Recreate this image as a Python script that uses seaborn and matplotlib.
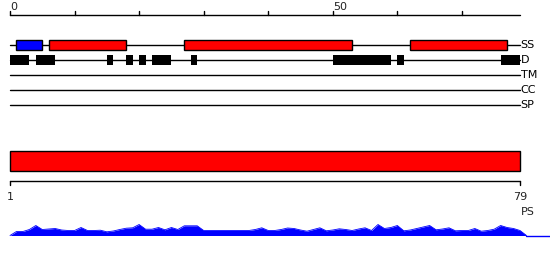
import matplotlib
matplotlib.use("Agg")
import matplotlib.pyplot as plt
import seaborn as sns
import numpy as np

sns.set_style("white")
plt.rcParams['font.family'] = ['DejaVu Sans']

# ---- data ----
seq_len = 79
top_ticks = [0, 10, 20, 30, 40, 50, 60, 70]
top_tick_labels = {0: "0", 50: "50"}
track_names = ["SS", "D", "TM", "CC", "SP"]

ss_helix_start = [1]          # blue
ss_helix_end = [5]
ss_strand_start = [6, 27, 62]  # red
ss_strand_end = [18, 53, 77]

dis_start = [0, 4, 15, 18, 20, 22, 28, 50, 60, 76]
dis_end = [3, 7, 16, 19, 21, 25, 29, 59, 61, 79]

ps_start = [1]
ps_end = [79]
ps_ticks = [1, 79]

profile_pos = list(range(0, 81))
profile_val = [0, 4, 4, 6, 10, 6, 6.5, 7, 5.5, 5, 5, 8, 5, 5, 5.3, 3.7, 4.5, 6, 7.3, 7.7,
               11, 6.3, 6.3, 8, 5.7, 8, 6, 9.7, 9.7, 9.7, 5, 5, 5, 5, 5, 5, 5, 5, 6, 7.7,
               5, 5, 6, 7.5, 7, 5.5, 4.3, 6, 7.7, 4.7, 5.5, 6.7, 6, 5, 6.5, 7.7, 5, 11, 7, 8,
               10, 4.7, 5.5, 7, 8.5, 10, 5.7, 6.5, 7.7, 4.7, 5, 5, 7, 4.3, 5, 6.3, 10, 8, 7, 5, 0]

# ---- layout ----
W, H = 550, 260
fig = plt.figure(figsize=(W / 100, H / 100), dpi=100)

s = 510 / seq_len
ax = fig.add_axes([0, 0, 1, 1])
ax.set_xlim(-10 / s, (W - 10) / s)
ax.set_ylim(H, 0)
ax.axis('off')

# top ruler
ax.plot([0, seq_len], [14.5, 14.5], color='black', lw=1)
for t in top_ticks:
    ax.plot([t, t], [10.5, 14.5], color='black', lw=1)
    if t in top_tick_labels:
        ax.text(t, 10, top_tick_labels[t], ha='left', va='baseline', fontsize=8, color='#222')

# track lines and labels
track_y = [45, 60, 75, 90, 105]
for name, y in zip(track_names, track_y):
    ax.plot([0, seq_len], [y, y], color='black', lw=1, zorder=1)
    ax.text(seq_len + 0.1, y, name, ha='left', va='center', fontsize=8, color='black')

ax.barh(45, np.array(ss_helix_end) - np.array(ss_helix_start), left=ss_helix_start,
        height=10, color='#0000ff', edgecolor='black', lw=1, zorder=3)
ax.barh(45, np.array(ss_strand_end) - np.array(ss_strand_start), left=ss_strand_start,
        height=10, color='#ff0000', edgecolor='black', lw=1, zorder=3)
ax.barh(60, np.array(dis_end) - np.array(dis_start), left=dis_start,
        height=10, color='black', edgecolor='black', lw=0, zorder=3)

# bottom PS section (scale 1..79)
s2 = 510 / (ps_ticks[-1] - ps_ticks[0])
ax2 = fig.add_axes([0, 0, 1, 1])
ax2.set_xlim(1 - 10 / s2, 1 + (W - 10) / s2)
ax2.set_ylim(H, 0)
ax2.axis('off')
ax2.patch.set_alpha(0)
ax2.barh(160.5, np.array(ps_end) - np.array(ps_start), left=ps_start, height=20,
         color='#ff0000', edgecolor='black', lw=1)
ax2.plot([ps_ticks[0], ps_ticks[-1]], [180.5, 180.5], color='black', lw=1)
for t in ps_ticks:
    ax2.plot([t, t], [180.5, 184.5], color='black', lw=1)
    ax2.text(t, 200, str(t), ha='center', va='baseline', fontsize=8, color='#222')
ax2.text(ps_ticks[-1] + 0.2, 215, "PS", ha='left', va='baseline', fontsize=8, color='#222')

# profile area
ax3 = fig.add_axes([0, (H - 235.5) / H, 1, 15 / H])
ax3.set_xlim(-10 / s, (W - 10) / s)
ax3.set_ylim(0, 15)
ax3.axis('off')
ax3.patch.set_alpha(0)
ax3.fill_between(profile_pos, profile_val, 0, color='#0000ff', lw=0)
sns.lineplot(x=profile_pos, y=profile_val, ax=ax3, color='#0000ff', lw=0.6)
ax3.axhline(0, xmin=(profile_pos[-1] + 10 / s) / (W / s), xmax=1, color='#0000ff',
            lw=1, clip_on=False)

fig.savefig("out.png", dpi=100)
